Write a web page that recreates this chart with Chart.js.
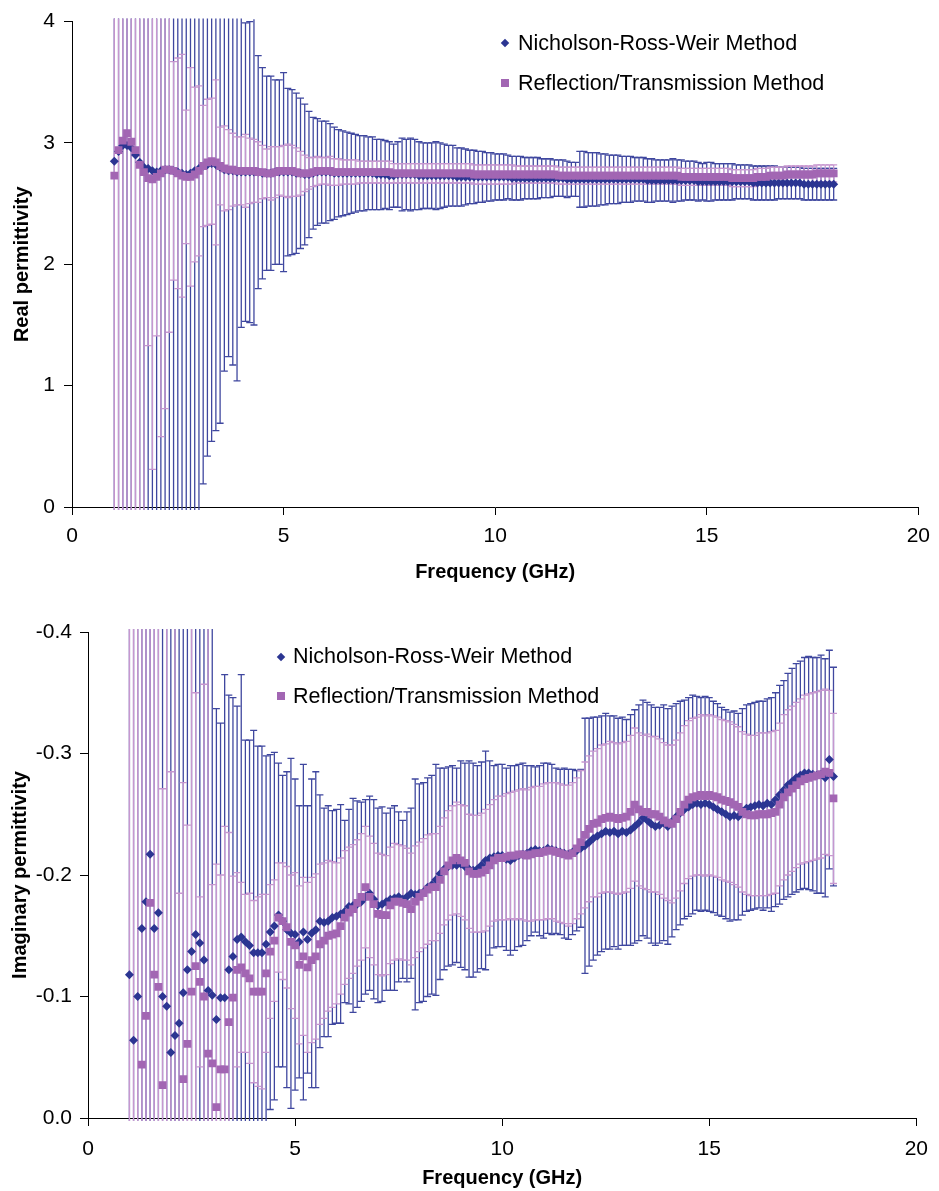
<!DOCTYPE html>
<html>
<head>
<meta charset="utf-8">
<title>Permittivity vs frequency</title>
<script src="https://cdn.jsdelivr.net/npm/chart.js@4.4.1/dist/chart.umd.min.js"></script>
<style>
  body { margin: 0; background: #fff; }
  #page { position: relative; width: 939px; height: 1191px; overflow: hidden; }
  canvas { position: absolute; left: 0; }
  .lg { position: absolute; font-family: 'Liberation Sans', Arial, sans-serif; font-size: 21.5px; line-height: 26px; color: #000; white-space: nowrap; }
  .mk { position: absolute; }
  .dia { width: 6px; height: 6px; background: #2b3592; transform: rotate(45deg); }
  .sq { width: 8px; height: 8px; background: #a266b3; }
</style>
</head>
<body>
<div id="page">
  <canvas id="realChart" width="939" height="600" style="top:0"></canvas>
  <canvas id="imagChart" width="939" height="591" style="top:600px"></canvas>

  <span class="mk dia" style="left:502px;top:40px"></span>
  <div class="lg" style="left:518px;top:30px">Nicholson-Ross-Weir Method</div>
  <span class="mk sq" style="left:501px;top:79px"></span>
  <div class="lg" style="left:518px;top:70px">Reflection/Transmission Method</div>

  <span class="mk dia" style="left:278px;top:654px"></span>
  <div class="lg" style="left:293px;top:643px">Nicholson-Ross-Weir Method</div>
  <span class="mk sq" style="left:277px;top:692px"></span>
  <div class="lg" style="left:293px;top:683px">Reflection/Transmission Method</div>
</div>
<script>
// sweep frequencies, GHz
const FREQ = [
  1.0,1.1,1.2,1.3,1.4,1.5,1.6,1.7,1.8,1.9,
  2.0,2.1,2.2,2.3,2.4,2.5,2.6,2.7,2.8,2.9,
  3.0,3.1,3.2,3.3,3.4,3.5,3.6,3.7,3.8,3.9,
  4.0,4.1,4.2,4.3,4.4,4.5,4.6,4.7,4.8,4.9,
  5.0,5.1,5.2,5.3,5.4,5.5,5.6,5.7,5.8,5.9,
  6.0,6.1,6.2,6.3,6.4,6.5,6.6,6.7,6.8,6.9,
  7.0,7.1,7.2,7.3,7.4,7.5,7.6,7.7,7.8,7.9,
  8.0,8.1,8.2,8.3,8.4,8.5,8.6,8.7,8.8,8.9,
  9.0,9.1,9.2,9.3,9.4,9.5,9.6,9.7,9.8,9.9,
  10.0,10.1,10.2,10.3,10.4,10.5,10.6,10.7,10.8,10.9,
  11.0,11.1,11.2,11.3,11.4,11.5,11.6,11.7,11.8,11.9,
  12.0,12.1,12.2,12.3,12.4,12.5,12.6,12.7,12.8,12.9,
  13.0,13.1,13.2,13.3,13.4,13.5,13.6,13.7,13.8,13.9,
  14.0,14.1,14.2,14.3,14.4,14.5,14.6,14.7,14.8,14.9,
  15.0,15.1,15.2,15.3,15.4,15.5,15.6,15.7,15.8,15.9,
  16.0,16.1,16.2,16.3,16.4,16.5,16.6,16.7,16.8,16.9,
  17.0,17.1,17.2,17.3,17.4,17.5,17.6,17.7,17.8,17.9,
  18.0
];

// real permittivity, Nicholson-Ross-Weir
const REAL_NRW = [
  2.85,2.93,2.98,2.98,2.96,2.90,2.84,2.80,2.79,2.77,
  2.76,2.77,2.78,2.78,2.77,2.76,2.75,2.74,2.75,2.77,
  2.79,2.81,2.82,2.83,2.82,2.80,2.78,2.77,2.77,2.76,
  2.76,2.76,2.76,2.76,2.76,2.75,2.75,2.75,2.76,2.76,
  2.76,2.76,2.76,2.75,2.75,2.74,2.74,2.75,2.76,2.76,
  2.76,2.76,2.75,2.75,2.75,2.75,2.75,2.75,2.75,2.75,
  2.75,2.75,2.74,2.74,2.74,2.73,2.73,2.74,2.74,2.74,
  2.74,2.74,2.73,2.73,2.73,2.73,2.73,2.73,2.73,2.73,
  2.73,2.72,2.72,2.72,2.72,2.72,2.72,2.72,2.72,2.72,
  2.72,2.72,2.72,2.72,2.71,2.71,2.71,2.71,2.71,2.71,
  2.71,2.71,2.71,2.71,2.71,2.71,2.71,2.70,2.70,2.70,
  2.70,2.70,2.70,2.70,2.70,2.70,2.70,2.70,2.70,2.70,
  2.70,2.70,2.70,2.70,2.70,2.70,2.69,2.69,2.69,2.69,
  2.69,2.69,2.69,2.69,2.69,2.69,2.69,2.69,2.68,2.68,
  2.68,2.68,2.68,2.68,2.68,2.68,2.68,2.68,2.68,2.68,
  2.68,2.67,2.67,2.67,2.67,2.67,2.67,2.67,2.67,2.67,
  2.67,2.67,2.67,2.66,2.66,2.66,2.66,2.66,2.66,2.66,
  2.66
];
const REAL_NRW_ERR = [
  3.5,3.5,3.5,3.5,3.5,3.5,3.5,3.5,3.5,3.5,
  3.5,3.5,3.5,3.5,3.5,3.5,3.5,3.5,3.5,3.5,
  2.90,2.62,2.40,2.29,2.19,2.11,1.66,1.53,1.60,1.72,
  1.28,1.23,1.24,1.26,0.96,0.87,0.80,0.80,0.76,0.76,
  0.82,0.69,0.68,0.66,0.62,0.58,0.52,0.46,0.44,0.42,
  0.42,0.40,0.38,0.36,0.35,0.34,0.33,0.32,0.31,0.31,
  0.30,0.30,0.29,0.29,0.28,0.28,0.26,0.27,0.30,0.29,
  0.30,0.29,0.28,0.27,0.27,0.27,0.28,0.27,0.26,0.25,
  0.25,0.24,0.24,0.23,0.22,0.22,0.21,0.21,0.20,0.20,
  0.19,0.19,0.19,0.18,0.18,0.18,0.18,0.17,0.17,0.17,
  0.17,0.16,0.16,0.16,0.15,0.15,0.15,0.15,0.14,0.14,
  0.23,0.23,0.22,0.22,0.22,0.21,0.21,0.20,0.20,0.20,
  0.19,0.19,0.19,0.18,0.18,0.18,0.18,0.18,0.17,0.17,
  0.17,0.17,0.18,0.17,0.17,0.16,0.16,0.16,0.16,0.15,
  0.16,0.16,0.15,0.15,0.15,0.15,0.15,0.14,0.14,0.14,
  0.14,0.14,0.14,0.14,0.14,0.14,0.14,0.13,0.13,0.13,
  0.13,0.13,0.13,0.13,0.13,0.13,0.13,0.13,0.13,0.13,
  0.13
];

// real permittivity, reflection/transmission
const REAL_RT = [
  2.73,2.94,3.02,3.08,3.01,2.94,2.82,2.76,2.71,2.70,
  2.72,2.75,2.78,2.78,2.77,2.75,2.73,2.72,2.72,2.74,
  2.77,2.81,2.84,2.85,2.84,2.81,2.79,2.78,2.78,2.77,
  2.77,2.77,2.77,2.77,2.76,2.76,2.75,2.75,2.76,2.77,
  2.77,2.77,2.77,2.76,2.75,2.75,2.75,2.76,2.77,2.77,
  2.77,2.77,2.76,2.76,2.76,2.76,2.76,2.76,2.76,2.76,
  2.76,2.76,2.76,2.76,2.76,2.76,2.75,2.75,2.75,2.75,
  2.75,2.75,2.75,2.75,2.75,2.75,2.75,2.75,2.75,2.75,
  2.75,2.75,2.75,2.75,2.75,2.74,2.74,2.74,2.74,2.74,
  2.74,2.74,2.74,2.74,2.74,2.74,2.74,2.74,2.74,2.74,
  2.74,2.74,2.74,2.74,2.74,2.73,2.73,2.73,2.73,2.73,
  2.73,2.73,2.73,2.73,2.73,2.73,2.73,2.73,2.73,2.73,
  2.73,2.73,2.73,2.73,2.73,2.73,2.73,2.73,2.73,2.73,
  2.73,2.73,2.73,2.73,2.72,2.72,2.72,2.72,2.72,2.72,
  2.72,2.72,2.72,2.72,2.72,2.72,2.71,2.71,2.71,2.71,
  2.71,2.71,2.72,2.72,2.72,2.73,2.73,2.73,2.73,2.74,
  2.74,2.74,2.74,2.74,2.74,2.74,2.75,2.75,2.75,2.75,
  2.75
];
const REAL_RT_ERR = [
  3.5,3.5,3.5,3.5,3.5,3.5,3.5,3.5,1.38,2.39,
  1.31,2.17,1.97,1.34,0.90,0.95,1.00,0.55,0.90,0.72,
  0.70,0.50,0.52,0.52,0.68,0.32,0.35,0.33,0.30,0.28,
  0.28,0.30,0.27,0.26,0.25,0.22,0.20,0.22,0.21,0.20,
  0.21,0.22,0.21,0.20,0.18,0.15,0.13,0.12,0.12,0.11,
  0.11,0.12,0.11,0.11,0.10,0.10,0.10,0.10,0.09,0.09,
  0.09,0.09,0.09,0.09,0.09,0.09,0.08,0.08,0.08,0.08,
  0.08,0.08,0.08,0.08,0.08,0.08,0.08,0.08,0.08,0.08,
  0.08,0.08,0.08,0.08,0.08,0.08,0.08,0.08,0.08,0.08,
  0.08,0.08,0.08,0.08,0.08,0.07,0.07,0.07,0.07,0.07,
  0.07,0.07,0.07,0.07,0.07,0.07,0.07,0.07,0.07,0.07,
  0.07,0.07,0.07,0.07,0.07,0.07,0.07,0.07,0.07,0.07,
  0.07,0.07,0.07,0.07,0.07,0.07,0.07,0.07,0.07,0.07,
  0.07,0.07,0.07,0.07,0.07,0.07,0.07,0.07,0.07,0.07,
  0.07,0.07,0.07,0.07,0.07,0.07,0.07,0.07,0.07,0.07,
  0.07,0.07,0.07,0.07,0.07,0.07,0.07,0.07,0.07,0.07,
  0.07,0.07,0.07,0.07,0.07,0.07,0.07,0.07,0.07,0.07,
  0.07
];

// imaginary permittivity, Nicholson-Ross-Weir
const IMAG_NRW = [
  -0.118,-0.064,-0.100,-0.156,-0.178,-0.217,-0.156,-0.169,-0.100,-0.092,
  -0.054,-0.068,-0.078,-0.103,-0.122,-0.137,-0.151,-0.144,-0.130,-0.105,
  -0.101,-0.081,-0.099,-0.099,-0.122,-0.133,-0.147,-0.149,-0.145,-0.142,
  -0.136,-0.136,-0.136,-0.143,-0.153,-0.158,-0.167,-0.162,-0.155,-0.152,
  -0.151,-0.145,-0.153,-0.147,-0.152,-0.155,-0.162,-0.161,-0.162,-0.165,
  -0.166,-0.168,-0.170,-0.174,-0.175,-0.176,-0.178,-0.182,-0.185,-0.180,
  -0.175,-0.176,-0.178,-0.180,-0.181,-0.182,-0.180,-0.182,-0.185,-0.184,
  -0.185,-0.186,-0.190,-0.192,-0.196,-0.201,-0.205,-0.207,-0.208,-0.208,
  -0.209,-0.207,-0.205,-0.204,-0.205,-0.208,-0.212,-0.214,-0.215,-0.216,
  -0.216,-0.213,-0.212,-0.214,-0.216,-0.217,-0.218,-0.220,-0.221,-0.220,
  -0.220,-0.222,-0.221,-0.220,-0.219,-0.218,-0.217,-0.219,-0.220,-0.222,
  -0.224,-0.227,-0.230,-0.232,-0.234,-0.236,-0.235,-0.236,-0.234,-0.236,
  -0.235,-0.237,-0.240,-0.243,-0.247,-0.245,-0.242,-0.240,-0.241,-0.243,
  -0.240,-0.244,-0.248,-0.251,-0.254,-0.256,-0.258,-0.259,-0.258,-0.259,
  -0.258,-0.256,-0.254,-0.252,-0.250,-0.248,-0.249,-0.248,-0.252,-0.255,
  -0.256,-0.257,-0.258,-0.257,-0.259,-0.258,-0.262,-0.266,-0.270,-0.274,
  -0.277,-0.280,-0.282,-0.284,-0.284,-0.283,-0.282,-0.283,-0.280,-0.295,
  -0.281
];
const IMAG_NRW_ERR = [
  0.5,0.5,0.5,0.5,0.5,0.5,0.5,0.5,0.5,0.5,
  0.5,0.5,0.5,0.5,0.5,0.5,0.5,0.5,0.5,0.5,
  0.450,0.256,0.226,0.266,0.226,0.213,0.192,0.216,0.166,0.169,
  0.183,0.170,0.170,0.155,0.146,0.143,0.125,0.120,0.130,0.144,
  0.128,0.112,0.138,0.110,0.127,0.130,0.104,0.094,0.095,0.088,
  0.088,0.090,0.075,0.080,0.088,0.085,0.082,0.080,0.080,0.082,
  0.080,0.080,0.073,0.075,0.076,0.070,0.065,0.070,0.070,0.095,
  0.090,0.090,0.090,0.090,0.095,0.087,0.083,0.082,0.082,0.080,
  0.085,0.085,0.089,0.088,0.085,0.085,0.090,0.080,0.075,0.075,
  0.075,0.075,0.078,0.076,0.075,0.075,0.072,0.070,0.068,0.070,
  0.072,0.070,0.070,0.068,0.068,0.070,0.070,0.068,0.066,0.065,
  0.105,0.102,0.100,0.098,0.097,0.097,0.096,0.095,0.095,0.094,
  0.093,0.095,0.096,0.097,0.097,0.097,0.098,0.098,0.097,0.097,
  0.097,0.095,0.093,0.092,0.090,0.090,0.090,0.088,0.088,0.088,
  0.088,0.087,0.087,0.086,0.086,0.086,0.086,0.085,0.085,0.085,
  0.085,0.085,0.085,0.086,0.086,0.088,0.088,0.090,0.090,0.092,
  0.093,0.094,0.094,0.095,0.096,0.096,0.097,0.098,0.098,0.090,
  0.090
];

// imaginary permittivity, reflection/transmission (points that fall off the plot sit just past 0)
const IMAG_RT = [
  0.03,0.03,0.03,-0.044,-0.084,-0.177,-0.118,-0.108,-0.027,0.03,
  0.03,0.03,0.03,-0.032,-0.061,-0.104,-0.125,-0.112,-0.100,-0.053,
  -0.045,-0.009,-0.040,-0.040,-0.079,-0.099,-0.122,-0.124,-0.119,-0.115,
  -0.104,-0.104,-0.104,-0.119,-0.137,-0.146,-0.165,-0.162,-0.157,-0.145,
  -0.142,-0.126,-0.133,-0.124,-0.130,-0.133,-0.143,-0.146,-0.150,-0.151,
  -0.152,-0.158,-0.165,-0.169,-0.172,-0.177,-0.182,-0.190,-0.182,-0.176,
  -0.168,-0.167,-0.167,-0.175,-0.178,-0.178,-0.177,-0.176,-0.172,-0.178,
  -0.182,-0.185,-0.188,-0.190,-0.190,-0.196,-0.203,-0.208,-0.212,-0.214,
  -0.212,-0.210,-0.203,-0.201,-0.201,-0.202,-0.204,-0.208,-0.212,-0.214,
  -0.214,-0.215,-0.216,-0.216,-0.217,-0.217,-0.216,-0.217,-0.218,-0.218,
  -0.219,-0.220,-0.220,-0.219,-0.218,-0.217,-0.216,-0.218,-0.222,-0.227,
  -0.233,-0.238,-0.242,-0.243,-0.246,-0.247,-0.248,-0.247,-0.246,-0.247,
  -0.248,-0.252,-0.258,-0.254,-0.252,-0.252,-0.250,-0.250,-0.248,-0.245,
  -0.243,-0.242,-0.246,-0.252,-0.258,-0.262,-0.264,-0.265,-0.266,-0.265,
  -0.266,-0.265,-0.264,-0.262,-0.261,-0.260,-0.258,-0.256,-0.252,-0.250,
  -0.249,-0.249,-0.250,-0.250,-0.250,-0.251,-0.252,-0.258,-0.264,-0.268,
  -0.271,-0.274,-0.277,-0.279,-0.280,-0.281,-0.282,-0.283,-0.285,-0.284,
  -0.263
];
const IMAG_RT_ERR = [
  0.5,0.5,0.5,0.5,0.5,0.5,0.5,0.5,0.244,0.5,
  0.315,0.5,0.215,0.244,0.180,0.5,0.225,0.070,0.257,0.5,
  0.147,0.200,0.160,0.200,0.156,0.100,0.080,0.070,0.065,0.070,
  0.075,0.078,0.080,0.065,0.055,0.050,0.045,0.048,0.050,0.055,
  0.060,0.065,0.065,0.070,0.068,0.068,0.066,0.064,0.062,0.060,
  0.058,0.056,0.055,0.054,0.053,0.052,0.052,0.050,0.050,0.050,
  0.050,0.050,0.049,0.048,0.048,0.047,0.047,0.046,0.046,0.046,
  0.045,0.045,0.045,0.044,0.044,0.044,0.044,0.045,0.045,0.046,
  0.046,0.047,0.047,0.048,0.048,0.049,0.050,0.050,0.050,0.051,
  0.051,0.052,0.052,0.053,0.053,0.054,0.054,0.055,0.055,0.055,
  0.056,0.056,0.056,0.057,0.057,0.057,0.058,0.058,0.058,0.059,
  0.060,0.060,0.060,0.061,0.061,0.061,0.062,0.062,0.062,0.062,
  0.062,0.063,0.063,0.063,0.063,0.064,0.064,0.064,0.064,0.064,
  0.064,0.065,0.065,0.065,0.065,0.065,0.065,0.065,0.066,0.066,
  0.066,0.066,0.066,0.066,0.066,0.066,0.066,0.066,0.066,0.066,
  0.066,0.066,0.067,0.067,0.067,0.067,0.067,0.067,0.068,0.068,
  0.068,0.068,0.068,0.069,0.069,0.069,0.069,0.069,0.068,0.068,
  0.070
];

const NRW_MARK = '#2b3592', NRW_BAR = '#3f479f';
const RT_MARK = '#a266b3', RT_BAR = '#c797cf';

Chart.defaults.font.family = "'Liberation Sans', Arial, sans-serif";
Chart.defaults.color = '#000';

// vertical error bars with caps, drawn below the markers
const errorBars = {
    id: 'errorBars',
    beforeDatasetsDraw(chart) {
        const { ctx, chartArea: area, scales: { x, y } } = chart;
        ctx.save();
        ctx.beginPath();
        ctx.rect(area.left, area.top - 3, area.right - area.left, area.bottom - area.top + 6);
        ctx.clip();
        ctx.lineWidth = 1.3;
        for (const ds of chart.data.datasets) {
            ctx.strokeStyle = ds.barColor;
            ds.data.forEach((p, i) => {
                const e = ds.errors[i];
                const px = x.getPixelForValue(p.x);
                const hi = y.getPixelForValue(p.y + e);
                const lo = y.getPixelForValue(p.y - e);
                ctx.beginPath();
                ctx.moveTo(px, hi);
                ctx.lineTo(px, lo);
                for (const py of [hi, lo]) {
                    if (py >= area.top && py <= area.bottom) {
                        ctx.moveTo(px - 3.5, py);
                        ctx.lineTo(px + 3.5, py);
                    }
                }
                ctx.stroke();
            });
        }
        ctx.restore();
    },
};

function points(vals) {
    return FREQ.map((f, i) => ({ x: f, y: vals[i] }));
}

function makeChart(id, o) {
    return new Chart(document.getElementById(id), {
        type: 'scatter',
        data: {
            datasets: [
                { label: 'Nicholson-Ross-Weir Method', data: points(o.nrw), errors: o.nrwErr, barColor: NRW_BAR,
                  pointStyle: 'rectRot', pointRadius: 4.5, pointBorderWidth: 0, backgroundColor: NRW_MARK, borderColor: NRW_MARK, order: 2, clip: 4 },
                { label: 'Reflection/Transmission Method', data: points(o.rt), errors: o.rtErr, barColor: RT_BAR,
                  pointStyle: 'rect', pointRadius: 5.5, pointBorderWidth: 0, backgroundColor: RT_MARK, borderColor: RT_MARK, order: 1, clip: 4 },
            ],
        },
        options: {
            responsive: false,
            animation: false,
            devicePixelRatio: 1,
            layout: { padding: o.padding },
            plugins: { legend: { display: false }, tooltip: { enabled: false } },
            scales: {
                x: {
                    type: 'linear', min: 0, max: 20,
                    ticks: { stepSize: 5, font: { size: 21 }, padding: o.xTickPad, maxRotation: 0 },
                    grid: { drawOnChartArea: false, color: '#000', tickLength: 8 },
                    border: { color: '#000', width: 1 },
                    title: { display: true, text: 'Frequency (GHz)', font: { size: 20, weight: 'bold' }, padding: { top: 0, bottom: o.xTitlePad } },
                    afterFit(s) { s.height = o.xHeight; },
                },
                y: {
                    type: 'linear', min: o.yMin, max: o.yMax, reverse: o.reverse,
                    ticks: { stepSize: o.yStep, font: { size: 21 }, padding: o.yTickPad, callback: o.yFormat },
                    grid: { drawOnChartArea: false, color: '#000', tickLength: 8 },
                    border: { color: '#000', width: 1 },
                    title: { display: true, text: o.yTitle, font: { size: 20, weight: 'bold' }, padding: { top: o.yTitlePad, bottom: 0 } },
                    afterFit(s) { s.width = o.yWidth; },
                },
            },
        },
        plugins: [errorBars],
    });
}

makeChart('realChart', {
    nrw: REAL_NRW, nrwErr: REAL_NRW_ERR, rt: REAL_RT, rtErr: REAL_RT_ERR,
    padding: { top: 18, right: 17, left: 0, bottom: 0 },
    xHeight: 93, xTickPad: 9, xTitlePad: 16,
    yMin: 0, yMax: 4, yStep: 1, reverse: false, yTitle: 'Real permittivity',
    yWidth: 72, yTickPad: 9, yTitlePad: 10,
    yFormat: v => String(v),
});

makeChart('imagChart', {
    nrw: IMAG_NRW, nrwErr: IMAG_NRW_ERR, rt: IMAG_RT, rtErr: IMAG_RT_ERR,
    padding: { top: 32, right: 19, left: 0, bottom: 0 },
    xHeight: 73, xTickPad: 11, xTitlePad: 1,
    yMin: -0.4, yMax: 0, yStep: 0.1, reverse: true, yTitle: 'Imaginary permittivity',
    yWidth: 88, yTickPad: 8, yTitlePad: 8,
    yFormat: v => (Math.abs(v) < 1e-9 ? '0.0' : v.toFixed(1)),
});
</script>
</body>
</html>
